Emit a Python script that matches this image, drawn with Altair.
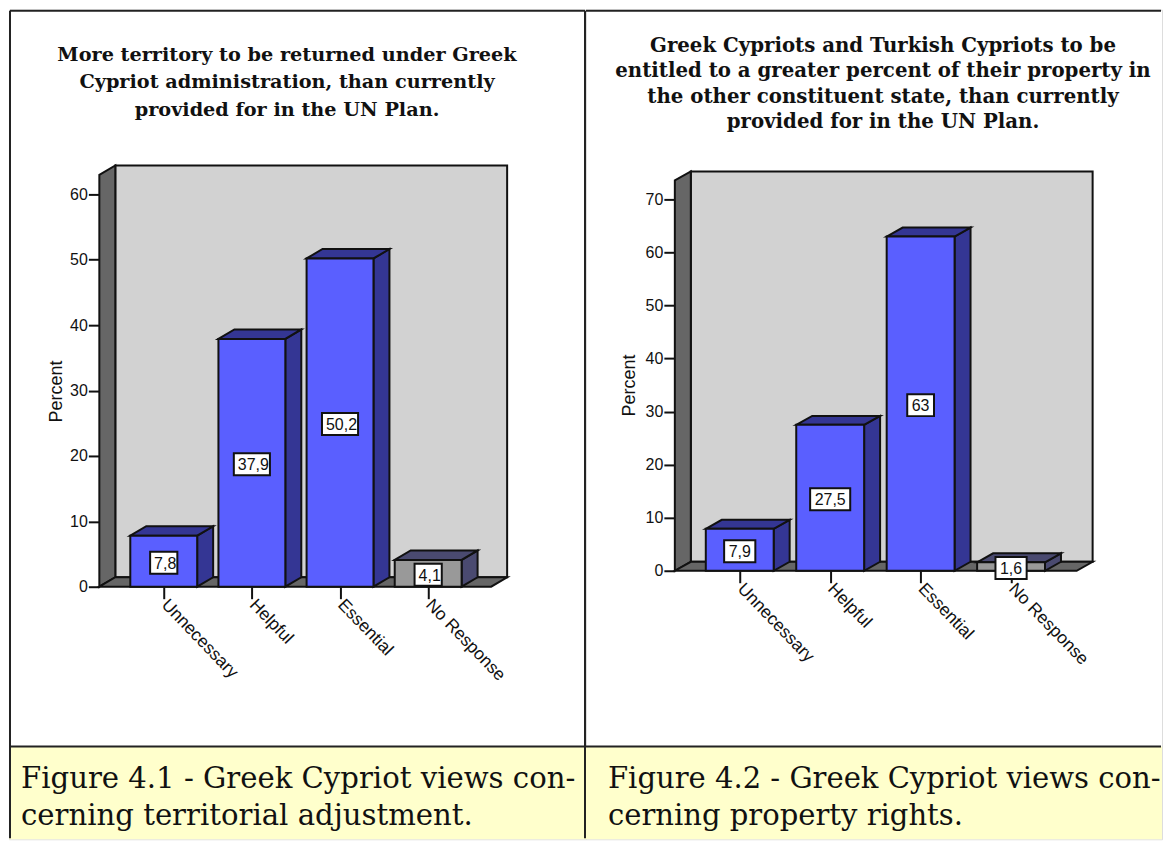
import json
import altair as alt
import pandas as pd

CATEGORIES = ["Unnecessary", "Helpful", "Essential", "No Response"]
VALUES_1 = [7.8, 37.9, 50.2, 4.1]
VALUES_2 = [7.9, 27.5, 63, 1.6]
LABELS_1 = ["7,8", "37,9", "50,2", "4,1"]
LABELS_2 = ["7,9", "27,5", "63", "1,6"]
TITLE_1 = ["More territory to be returned under Greek",
           "Cypriot administration, than currently",
           "provided for in the UN Plan."]
TITLE_2 = ["Greek Cypriots and Turkish Cypriots to be",
           "entitled to a greater percent of their property in",
           "the other constituent state, than currently",
           "provided for in the UN Plan."]
CAPTION_1 = ["Figure 4.1 - Greek Cypriot views con-", "cerning territorial adjustment."]
CAPTION_2 = ["Figure 4.2 - Greek Cypriot views con-", "cerning property rights."]
Y_TICKS_1 = [0, 10, 20, 30, 40, 50, 60]
Y_TICKS_2 = [0, 10, 20, 30, 40, 50, 60, 70]

BLUE, BLUE_DARK = "#5A5FFF", "#343694"
GREY, GREY_DARK = "#999999", "#4A4A70"
WALL, SIDE = "#D2D2D2", "#666666"
LINE = "#111111"
SANS = "Liberation Sans"
SERIF = "DejaVu Serif"
PAGE_H = 831


def panel(values, labels, y_ticks, title, caption, g):
    left, width = g["left"], g["width"]
    pitch, tick0 = g["pitch"], g["tick0"]
    unit, y0 = g["unit"], g["y0"]
    dpx, dpy = 16, g["dpy"]
    du, dv = dpx / pitch, dpy / unit
    half = g["bar"] / 2 / pitch

    def ux(px):
        return (px - tick0) / pitch + 0.5

    def vy(py):
        return (y0 - py) / unit

    xs = alt.Scale(domain=[ux(left), ux(left + width)], nice=False, zero=False)
    ys = alt.Scale(domain=[vy(8 + PAGE_H), vy(8)], nice=False, zero=False)

    labels_expr = json.dumps(CATEGORIES) + "[floor(datum.value)]"
    x_axis = alt.Axis(
        values=[0.5, 1.5, 2.5, 3.5], labelExpr=labels_expr, title=None,
        offset=-(8 + PAGE_H - y0), domain=False, grid=False, tickSize=12, tickWidth=2,
        tickColor=LINE, labelAngle=46, labelAlign="left", labelBaseline="middle",
        labelPadding=3, labelFont=SANS, labelFontSize=17.5, labelColor=LINE,
        labelOverlap=False, labelBound=False, labelFlush=False)
    y_axis = alt.Axis(
        values=y_ticks, title="Percent", offset=-(g["front_left"] - left),
        domain=False, grid=False, tickSize=11, tickWidth=2, tickColor=LINE,
        labelPadding=1, labelFont=SANS, labelFontSize=16, labelColor=LINE,
        labelOverlap=False, labelBound=False, labelFlush=False,
        titleFont=SANS, titleFontSize=18, titleFontWeight="normal", titleColor=LINE,
        titleX=g["title_x"] - g["front_left"], titleY=g["title_y"] - 8)

    X = lambda f: alt.X(f, type="quantitative", scale=xs, axis=x_axis)
    Y = lambda f: alt.Y(f, type="quantitative", scale=ys, axis=y_axis, stack=None)

    top_v = vy(g["wall_top"])
    wl = ux(g["front_left"])
    wr = ux(g["front_right"])

    shell = pd.DataFrame(
        [dict(s="wall", x=wl + du, t=top_v + dv, b=dv, c=WALL),
         dict(s="wall", x=wr + du, t=top_v + dv, b=dv, c=WALL),
         dict(s="left", x=wl, t=top_v, b=0, c=SIDE),
         dict(s="left", x=wl + du, t=top_v + dv, b=dv, c=SIDE),
         dict(s="floor", x=wl, t=0, b=0, c=SIDE),
         dict(s="floor", x=wl + du, t=dv, b=0, c=SIDE),
         dict(s="floor", x=wr, t=dv, b=0, c=SIDE),
         dict(s="floor", x=wr + du, t=dv, b=dv, c=SIDE)])

    faces, fronts, boxes = [], [], []
    for i, (v, lab) in enumerate(zip(values, labels)):
        u = i + 0.5
        dark = GREY_DARK if i == 3 else BLUE_DARK
        lo, hi = u - half, u + half
        faces += [dict(s=f"side{i}", x=hi, t=v, b=0, c=dark),
                  dict(s=f"side{i}", x=hi + du, t=v + dv, b=dv, c=dark),
                  dict(s=f"top{i}", x=lo, t=v, b=v, c=dark),
                  dict(s=f"top{i}", x=lo + du, t=v + dv, b=v, c=dark),
                  dict(s=f"top{i}", x=hi, t=v + dv, b=v, c=dark),
                  dict(s=f"top{i}", x=hi + du, t=v + dv, b=v + dv, c=dark)]
        fronts.append(dict(x=lo, x2=hi, v=v, c=GREY if i == 3 else BLUE))
        tw = sum(4.45 if ch == "," else 8.9 for ch in lab)
        bw = tw + g["box_pad"]
        mid = v / 2 - 1.5 / unit
        boxes.append(dict(x=u - bw / 2 / pitch, x2=u + bw / 2 / pitch,
                          y=mid - 11 / unit, y2=mid + 11 / unit,
                          tx=u - bw / 2 / pitch + g["text_in"] / pitch,
                          ty=mid, label=lab))
    faces, fronts, boxes = map(pd.DataFrame, (faces, fronts, boxes))

    def area(df):
        return alt.Chart(df).mark_area(orient="vertical", stroke=LINE, strokeWidth=2,
                                       strokeJoin="miter", clip=False).encode(
            x=X("x"), y=Y("t"), y2=alt.Y2("b"),
            fill=alt.Fill("c:N", scale=None, legend=None),
            detail="s:N")

    one = pd.DataFrame({"k": [0]})
    rule = dict(color="#222222", strokeWidth=2)
    layers = [
        alt.Chart(one).mark_rect(fill="#FFFFCC", stroke=None).encode(
            x=alt.value(0), x2=alt.value(width), y=alt.value(738), y2=alt.value(PAGE_H)),
        alt.Chart(one).mark_rule(**rule).encode(
            x=alt.value(g["hl"]), x2=alt.value(width - 1), y=alt.value(1)),
        alt.Chart(one).mark_rule(**rule).encode(
            x=alt.value(g["hl"]), x2=alt.value(width - 1), y=alt.value(738)),
        area(shell),
    ]
    for edge in g["verticals"]:
        layers.append(alt.Chart(one).mark_rule(**rule).encode(
            x=alt.value(edge), y=alt.value(1), y2=alt.value(PAGE_H - 1)))

    for i, line in enumerate(title):
        layers.append(alt.Chart(pd.DataFrame({"t": [line]})).mark_text(
            font=SERIF, fontWeight="bold", fontSize=g["title_size"], color=LINE,
            align="center", baseline="alphabetic").encode(
            x=alt.value(g["title_cx"] - left), y=alt.value(g["title_base"] - 8 + i * g["title_lh"]),
            text="t:N"))
    for i, line in enumerate(caption):
        layers.append(alt.Chart(pd.DataFrame({"t": [line]})).mark_text(
            font=SERIF, fontSize=g["cap_size"], color="#111111", align="left",
            baseline="alphabetic").encode(
            x=alt.value(g["cap_x"] - left), y=alt.value(788 - 8 + i * 37), text="t:N"))

    layers += [
        area(faces),
        alt.Chart(fronts).mark_rect(stroke=LINE, strokeWidth=2).encode(
            x=X("x"), x2=alt.X2("x2"), y=Y("v"), y2=alt.datum(0),
            fill=alt.Fill("c:N", scale=None, legend=None)),
        alt.Chart(boxes).mark_rect(fill="white", stroke=LINE, strokeWidth=2).encode(
            x=X("x"), x2=alt.X2("x2"), y=Y("y"), y2=alt.Y2("y2")),
        alt.Chart(boxes).mark_text(font=SANS, fontSize=16, color=LINE, align="left",
                                   baseline="middle", dy=1).encode(
            x=X("tx"), y=Y("ty"), text="label:N"),
    ]
    return alt.layer(*layers).properties(width=width, height=PAGE_H)


G1 = dict(left=8, width=578, pitch=88.3, tick0=163, unit=6.55, y0=586, dpy=9.5, bar=67,
          wall_top=173.5, front_left=98.5, front_right=491, box_pad=5, text_in=4,
          title_x=64.5, title_y=390, title_size=19.3, title_cx=286.5, title_base=59, title_lh=27.5,
          cap_size=29.2, cap_x=20, hl=1, verticals=[1, 577])
G2 = dict(left=586, width=577, pitch=90.6, tick0=740, unit=5.314, y0=570, dpy=9, bar=68,
          wall_top=179, front_left=675, front_right=1077.5, box_pad=9, text_in=4.5,
          title_x=638.5, title_y=384, title_size=19.8, title_cx=883.5, title_base=50, title_lh=25.5,
          cap_size=29.1, cap_x=608, hl=0, verticals=[])

chart = alt.hconcat(
    panel(VALUES_1, LABELS_1, Y_TICKS_1, TITLE_1, CAPTION_1, G1),
    panel(VALUES_2, LABELS_2, Y_TICKS_2, TITLE_2, CAPTION_2, G2),
    spacing=0, padding=0, bounds="flush",
).configure_view(stroke=None).configure(background="white")

chart.save("out.html", embed_options={"renderer": "svg", "actions": False})
